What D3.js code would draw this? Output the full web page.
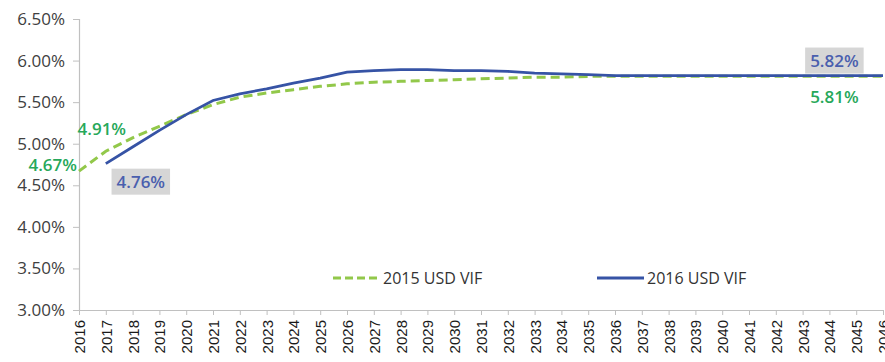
<!DOCTYPE html>
<html>
<head>
<meta charset="utf-8">
<script src="https://cdn.jsdelivr.net/npm/d3@7"></script>
<style>
  html, body { margin: 0; padding: 0; background: #ffffff; }
  svg { display: block; font-family: "Open Sans", "Noto Sans", sans-serif; }
</style>
</head>
<body>
<svg id="chart" width="885" height="362"></svg>
<script>
// Projection years on the category axis
const years = d3.range(2016, 2047);

// 2015 USD VIF curve, one value per year from 2016 (percent)
const vif2015 = [4.67, 4.91, 5.07, 5.21, 5.35, 5.47, 5.56, 5.61, 5.65, 5.69, 5.72, 5.74, 5.75, 5.76, 5.77,
                 5.78, 5.79, 5.80, 5.80, 5.81, 5.81, 5.81, 5.81, 5.81, 5.81, 5.81, 5.81, 5.81, 5.81, 5.81, 5.81];

// 2016 USD VIF curve, starting in 2017 (percent)
const vif2016Years = d3.range(2017, 2047);
const vif2016 = [4.76, 4.96, 5.16, 5.35, 5.52, 5.60, 5.66, 5.73, 5.79, 5.86, 5.88, 5.89, 5.89, 5.88, 5.88,
                 5.87, 5.85, 5.84, 5.83, 5.82, 5.82, 5.82, 5.82, 5.82, 5.82, 5.82, 5.82, 5.82, 5.82, 5.82];

// Y axis tick values (percent)
const yTicks = [3.00, 3.50, 4.00, 4.50, 5.00, 5.50, 6.00, 6.50];

const seriesNames = ["2015 USD VIF", "2016 USD VIF"];

const colors = {
  green: "#92c84a",
  blue: "#3653a5",
  greenText: "#27a85a",
  blueText: "#4a5fae",
  box: "#d6d6d6",
  axis: "#c0c0c0",
  text: "#404040"
};

const svg = d3.select("#chart");

const x = d3.scalePoint().domain(years).range([79, 883]);
const y = d3.scaleLinear().domain([3.0, 6.5]).range([310, 19]);

// Y axis
const yAxis = svg.append("g")
  .attr("transform", `translate(${x(2016)},0)`)
  .call(d3.axisLeft(y).tickValues(yTicks).tickSize(6).tickPadding(8)
    .tickFormat(d => d3.format(".2f")(d) + "%"));
yAxis.select(".domain").attr("stroke", colors.axis).attr("stroke-width", 1.2);
yAxis.selectAll(".tick line").attr("stroke", colors.axis);
yAxis.selectAll(".tick text")
  .attr("fill", colors.text)
  .style("font-size", "17px")
  .style("font-family", "'Open Sans', sans-serif");

// X axis
const xAxis = svg.append("g")
  .attr("transform", `translate(0,${y(3.0)})`)
  .call(d3.axisBottom(x).tickSize(5).tickSizeOuter(0));
xAxis.select(".domain").attr("stroke", colors.axis).attr("stroke-width", 1.2);
xAxis.selectAll(".tick line").attr("stroke", colors.axis);
xAxis.selectAll(".tick text")
  .attr("fill", "#1a1a1a")
  .style("font-size", "15px")
  .attr("text-anchor", "end")
  .attr("transform", "rotate(-90)")
  .attr("x", -10)
  .attr("y", 0)
  .attr("dy", "0.36em");

// Lines
const line = d3.line().x(d => x(d[0])).y(d => y(d[1]));

svg.append("path")
  .datum(years.map((yr, i) => [yr, vif2015[i]]))
  .attr("d", line)
  .attr("fill", "none")
  .attr("stroke", colors.green)
  .attr("stroke-width", 3)
  .attr("stroke-dasharray", "9,5");

svg.append("path")
  .datum(vif2016Years.map((yr, i) => [yr, vif2016[i]]))
  .attr("d", line)
  .attr("fill", "none")
  .attr("stroke", colors.blue)
  .attr("stroke-width", 2.8);

// Data labels
const labelFont = "17px";

function plainLabel(txt, cx, cy, anchor, color) {
  svg.append("text")
    .attr("x", cx).attr("y", cy)
    .attr("text-anchor", anchor)
    .attr("dominant-baseline", "central")
    .attr("fill", color)
    .style("font-size", labelFont)
    .style("font-weight", 600)
    .text(txt);
}

function boxedLabel(txt, cx, cy, color) {
  const g = svg.append("g");
  const t = g.append("text")
    .attr("x", cx).attr("y", cy)
    .attr("text-anchor", "middle")
    .attr("dominant-baseline", "central")
    .attr("fill", color)
    .style("font-size", labelFont)
    .style("font-weight", 600)
    .text(txt);
  const b = t.node().getBBox();
  g.insert("rect", "text")
    .attr("x", b.x - 5).attr("y", cy - 13)
    .attr("width", b.width + 10).attr("height", 26)
    .attr("fill", colors.box);
}

const fmt = v => d3.format(".2f")(v) + "%";
const last2015 = vif2015[vif2015.length - 1];
const last2016 = vif2016[vif2016.length - 1];

plainLabel(fmt(vif2015[0]), x(2016) - 2, y(vif2015[0]) - 7, "end", colors.greenText);
plainLabel(fmt(vif2015[1]), x(2017) - 4, y(vif2015[1]) - 23, "middle", colors.greenText);
boxedLabel(fmt(vif2016[0]), x(2017) + 35, y(vif2016[0]) + 18, colors.blueText);
boxedLabel(fmt(last2016), x(2044) + 5, y(last2016) - 15, colors.blueText);
plainLabel(fmt(last2015), x(2044) + 5, y(last2015) + 20, "middle", colors.greenText);

// Legend
const legend = svg.append("g").style("font-size", "16px").attr("fill", "#333");
const legendItems = [
  { name: seriesNames[0], x0: 333, color: colors.green, dash: "8,4" },
  { name: seriesNames[1], x0: 597, color: colors.blue, dash: null }
];
legendItems.forEach(it => {
  legend.append("line")
    .attr("x1", it.x0).attr("x2", it.x0 + 47)
    .attr("y1", 278).attr("y2", 278)
    .attr("stroke", it.color)
    .attr("stroke-width", 3)
    .attr("stroke-dasharray", it.dash);
  legend.append("text")
    .attr("x", it.x0 + 50).attr("y", 278)
    .attr("dominant-baseline", "central")
    .text(it.name);
});
</script>
</body>
</html>
